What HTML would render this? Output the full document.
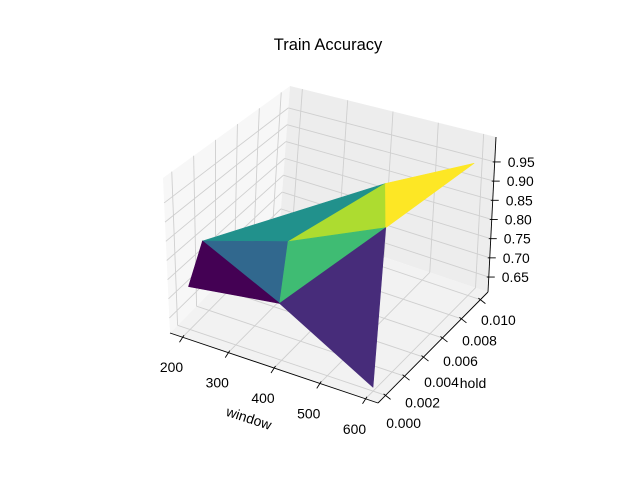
<!DOCTYPE html>
<html><head><meta charset="utf-8"><style>
html,body{margin:0;padding:0;background:#fff}
svg{display:block;font-family:"Liberation Sans","DejaVu Sans",sans-serif}
</style></head><body>
<svg id="chart" width="640" height="480" viewBox="0 0 640 480">
<text x="328" y="50" text-anchor="middle" font-size="16.5">Train Accuracy</text>
<g id="panes"></g>
<g id="grid"></g>
<g id="surface"></g>
<g id="axes"></g>
<text x="249" y="423" text-anchor="middle" font-size="14" transform="rotate(18 249 418)">window</text>
<text x="473" y="388" text-anchor="middle" font-size="14">hold</text>
</svg>
<script>
// data
const windowVals = [200, 200, 400, 400, 410, 500, 600, 600];
const holdVals   = [0.0015, 0, 0, 0.001, 0.010, 0.006, 0.010, 0];
const accVals    = [0.809, 0.724, 0.761, 0.90, 0.839, 0.853, 0.958, 0.621];
const triangles  = [[0,3,4],[3,4,5],[4,6,5],[0,2,3],[3,2,5],[0,1,2],[2,5,7]];
const triColors  = ["#21918c","#addc30","#fde725","#31688e","#3fbc73","#440154","#472c7a"];
const xTicks = [200, 300, 400, 500, 600];
const yTicks = [0, 0.002, 0.004, 0.006, 0.008, 0.010];
const zTicks = [0.65, 0.70, 0.75, 0.80, 0.85, 0.90, 0.95];
const xTickLabels = ["200","300","400","500","600"];
const yTickLabels = ["0.000","0.002","0.004","0.006","0.008","0.010"];
const zTickLabels = ["0.65","0.70","0.75","0.80","0.85","0.90","0.95"];

const XL=172.7, XH=627.3, YL=-0.0008, YH=0.0108, ZL=0.611, ZH=1.015;
const C = { // box corners in screen coords [u][v][t]
 "000":[170,333],"100":[378,403],"110":[488,292],"010":[280,222],
 "001":[163,178],"101":[372,250],"111":[496,137],"011":[290,86]};
function proj(x,y,z){
  const u=(x-XL)/(XH-XL), v=(y-YL)/(YH-YL), t=(z-ZL)/(ZH-ZL);
  let sx=0, sy=0;
  for(const a of [0,1])for(const b of [0,1])for(const c of [0,1]){
    const w=(a?u:1-u)*(b?v:1-v)*(c?t:1-t);
    const p=C[""+a+b+c]; sx+=w*p[0]; sy+=w*p[1];
  }
  return [sx,sy];
}
const NS="http://www.w3.org/2000/svg";
function mk(tag,attrs,parent){const e=document.createElementNS(NS,tag);for(const k in attrs)e.setAttribute(k,attrs[k]);parent.appendChild(e);return e;}
const pts=a=>a.map(p=>p[0].toFixed(1)+","+p[1].toFixed(1)).join(" ");

const panes=document.getElementById("panes");
let e;
e=mk("polygon",{points:pts([proj(XL,YL,ZL),proj(XL,YH,ZL),proj(XL,YH,ZH),proj(XL,YL,ZH)]),fill:"#f7f7f7"},panes);


e=mk("polygon",{points:pts([proj(XL,YH,ZL),proj(XH,YH,ZL),proj(XH,YH,ZH),proj(XL,YH,ZH)]),fill:"#ededed"},panes);


e=mk("polygon",{points:pts([proj(XL,YL,ZL),proj(XH,YL,ZL),proj(XH,YH,ZL),proj(XL,YH,ZL)]),fill:"#f2f2f2"},panes);



const grid=document.getElementById("grid");
function gl(a,b,name){const l=mk("line",{x1:a[0],y1:a[1],x2:b[0],y2:b[1],stroke:"#cfcfcf","stroke-width":0.9},grid);

}
yTicks.forEach(h=>{gl(proj(XL,h,ZL),proj(XL,h,ZH),'grid-left-hold');gl(proj(XL,h,ZL),proj(XH,h,ZL),'grid-floor-hold');});
xTicks.forEach(w=>{gl(proj(w,YH,ZL),proj(w,YH,ZH),'grid-back-window');gl(proj(w,YL,ZL),proj(w,YH,ZL),'grid-floor-window');});
zTicks.forEach(z=>{gl(proj(XL,YL,z),proj(XL,YH,z),'grid-left-z');gl(proj(XL,YH,z),proj(XH,YH,z),'grid-back-z');});

const surf=document.getElementById("surface");
triangles.forEach((tr,i)=>{
  const p=tr.map(k=>proj(windowVals[k],holdVals[k],accVals[k]));
  const poly=mk("polygon",{points:pts(p),fill:triColors[i],stroke:triColors[i],"stroke-width":0.6,"stroke-linejoin":"round"},surf);
  
  
});

const axes=document.getElementById("axes");
function al(a,b,name,w){const l=mk("line",{x1:a[0],y1:a[1],x2:b[0],y2:b[1],stroke:"#000","stroke-width":w||0.9},axes);

}
function tx(x,y,s,anchor,name){const t=mk("text",{x:x,y:y,"font-size":13.9,"text-anchor":anchor},axes);t.textContent=s;

}
al(proj(XL,YL,ZL),proj(XH,YL,ZL),'x-axis-line');
al(proj(XH,YL,ZL),proj(XH,YH,ZL),'y-axis-line');
al(proj(XH,YH,ZL),proj(XH,YH,ZH),'z-axis-line');
xTicks.forEach((w,i)=>{const p=proj(w,YL,ZL);al([p[0]+1.5,p[1]-2],[p[0]-3,p[1]+5],'x-tick');
  tx(p[0]-11,p[1]+35,xTickLabels[i],"middle",'x-tick-label');});
yTicks.forEach((h,i)=>{const p=proj(XH,h,ZL);const v=(h-YL)/(YH-YL);al([p[0]-2,p[1]-1.5],[p[0]+5,p[1]+4],'y-tick');
  tx(p[0]+18,p[1]+33-8*v,yTickLabels[i],"middle",'y-tick-label');});
zTicks.forEach((z,i)=>{const p=proj(XH,YH,z);al([p[0]-2,p[1]],[p[0]+6,p[1]],'z-tick');
  tx(p[0]+13,p[1]+5,zTickLabels[i],"start",'z-tick-label');});
</script>
</body></html>
